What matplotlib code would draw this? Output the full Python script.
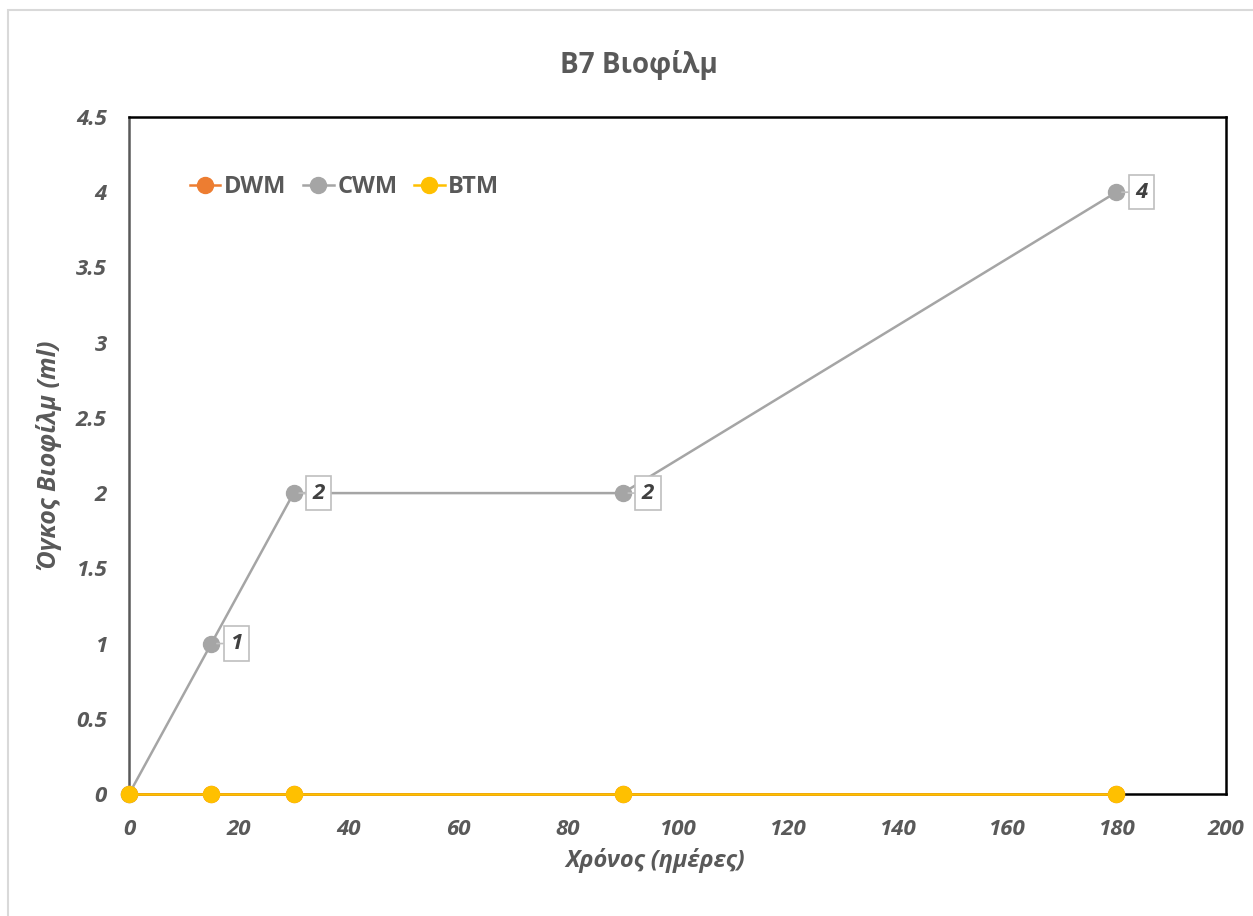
import matplotlib.pyplot as plt
from matplotlib.patches import Rectangle

# Μετρήσεις όγκου βιοφίλμ (ml) ανά ημέρα
days = [0, 15, 30, 90, 180]
dwm = [0, 0, 0, 0, 0]
cwm = [0, 1, 2, 2, 4]
btm = [0, 0, 0, 0, 0]

series_names = ["DWM", "CWM", "BTM"]
series_colors = ["#ed7d31", "#a5a5a5", "#ffc000"]

x_ticks = list(range(0, 201, 20))
y_ticks = [0, 0.5, 1, 1.5, 2, 2.5, 3, 3.5, 4, 4.5]
y_tick_labels = ["0", "0.5", "1", "1.5", "2", "2.5", "3", "3.5", "4", "4.5"]

plt.rcParams["font.family"] = ["Open Sans", "DejaVu Sans"]
text_color = "#595959"

fig = plt.figure(figsize=(12.53, 9.16), dpi=100)
ax = fig.add_axes([0.1030, 0.1332, 0.8755, 0.7391])

# πλαίσιο γραφήματος
fig.patches.append(Rectangle((8 / 1253, -0.05), 1.1, (916 - 10) / 916 + 0.05,
                             transform=fig.transFigure, fill=False,
                             edgecolor="#d9d9d9", linewidth=1.5, zorder=0))

for values, name, color in zip([dwm, cwm, btm], series_names, series_colors):
    ax.plot(days, values, color=color, linewidth=1.8, marker="o",
            markersize=11.5, label=name, clip_on=False, zorder=3)

# ετικέτες τιμών για τη σειρά CWM
for d, v in zip(days, cwm):
    if v == 0:
        continue
    ax.annotate(str(v), xy=(d, v), xytext=(18, 0), textcoords="offset points",
                ha="center", va="center", fontsize=16, fontweight="bold",
                fontstyle="italic", color="#404040",
                bbox=dict(boxstyle="square,pad=0.3", facecolor="white",
                          edgecolor="#bfbfbf", linewidth=1.2),
                arrowprops=dict(arrowstyle="-", color="#bfbfbf", linewidth=1.2,
                                shrinkA=0, shrinkB=4),
                zorder=4)

ax.set_xlim(0, 200)
ax.set_ylim(0, 4.5)
ax.set_xticks(x_ticks)
ax.set_yticks(y_ticks)
ax.set_yticklabels(y_tick_labels)
ax.tick_params(length=0, labelsize=16, labelcolor=text_color)
ax.tick_params(axis="x", pad=18)
ax.tick_params(axis="y", pad=16)
for lbl in ax.get_xticklabels() + ax.get_yticklabels():
    lbl.set_fontweight("bold")
    lbl.set_fontstyle("italic")

for side in ["top", "right", "bottom"]:
    ax.spines[side].set_color("black")
    ax.spines[side].set_linewidth(1.8)
ax.spines["left"].set_color("#595959")
ax.spines["left"].set_linewidth(1.8)

fig.text(639 / 1253, 1 - 65 / 916, "B7 Βιοφίλμ", fontsize=20, fontweight="bold",
         color=text_color, ha="center", va="center")
ax.set_xlabel("Χρόνος (ημέρες)", fontsize=17, fontweight="bold",
              fontstyle="italic", color=text_color)
ax.xaxis.set_label_coords(0.4795, -0.080)
ax.set_ylabel("Όγκος Βιοφίλμ (ml)", fontsize=18, fontweight="bold",
              fontstyle="italic", color=text_color, labelpad=10)

ax.legend(loc="upper left", bbox_to_anchor=(0.036, 0.945), ncol=3, frameon=False,
          handlelength=1.3, columnspacing=0.7, handletextpad=0.15,
          labelcolor=text_color, prop={"weight": "bold", "size": 17})

fig.savefig("out.png", dpi=100)
